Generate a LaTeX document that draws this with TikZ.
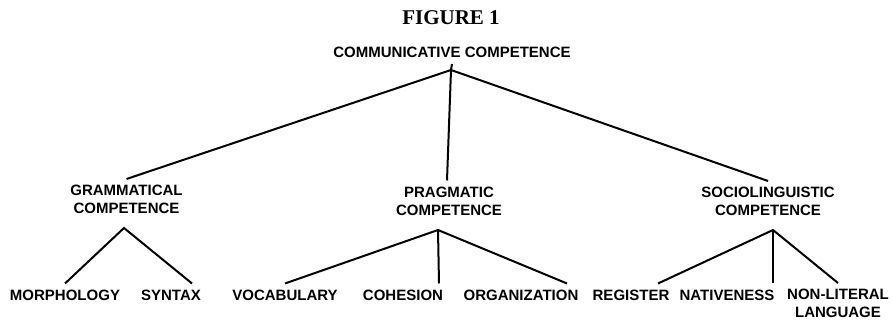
\documentclass[tikz,border=0pt]{standalone}
\usepackage{fontspec}
\setmainfont{Liberation Sans}
\newfontfamily\figfont{Liberation Serif}
\begin{document}
\begin{tikzpicture}[x=1pt,y=-1pt,
  lab/.style={font=\fontsize{15}{18}\selectfont\bfseries, inner xsep=0pt, inner ysep=6pt, align=center},
  edge/.style={line width=2pt}]
\useasboundingbox[fill=white] (0,0) rectangle (892,320);
% title
\node[font=\figfont\fontsize{21}{24}\selectfont\bfseries, inner sep=0pt] (fig) at (451,18) {FIGURE 1};
% levels
\node[lab] (root) at (452,52.5) {COMMUNICATIVE COMPETENCE};
\node[lab] (gram) at (126.5,199.5) {GRAMMATICAL\\COMPETENCE};
\node[lab] (prag) at (449,201) {PRAGMATIC\\COMPETENCE};
\node[lab] (socio) at (768,201.5) {SOCIOLINGUISTIC\\COMPETENCE};
\node[lab] (morph) at (65,295) {MORPHOLOGY};
\node[lab] (syntax) at (171,295) {SYNTAX};
\node[lab] (vocab) at (285,295) {VOCABULARY};
\node[lab] (cohes) at (403,295) {COHESION};
\node[lab] (organ) at (521,295) {ORGANIZATION};
\node[lab] (regis) at (631,295) {REGISTER};
\node[lab] (nativ) at (727,295) {NATIVENESS};
\node[lab, anchor=north] (nonlit) at (838,283) {NON-LITERAL\\LANGUAGE};
% apexes
\coordinate (rapex) at (451,70);
\coordinate (gapex) at (124,228);
\coordinate (papex) at (438,230);
\coordinate (sapex) at (773,230);
% connectors
\draw[edge] (rapex) -- (root.south);
\draw[edge] (gram.north) -- (rapex) -- (socio.north);
\draw[edge] (rapex) -- ([xshift=-2pt]prag.north);
\draw[edge] (morph.north) -- (gapex) -- ([xshift=21pt]syntax.north);
\draw[edge] (vocab.north) -- (papex) -- ([xshift=46pt]organ.north);
\draw[edge] (papex) -- ([xshift=36pt]cohes.north);
\draw[edge] ([xshift=27pt]regis.north) -- (sapex) -- (nonlit.north);
\draw[edge] (sapex) -- ([xshift=46pt]nativ.north);
\end{tikzpicture}
\end{document}
